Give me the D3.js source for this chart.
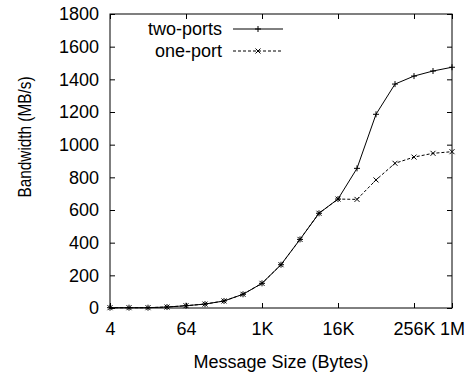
<!DOCTYPE html>
<html>
<head>
<meta charset="utf-8">
<script src="https://cdn.jsdelivr.net/npm/d3@7"></script>
<style>
  body { margin: 0; background: #fff; }
  text { font-family: "Liberation Sans", Arial, sans-serif; fill: #000; }
</style>
</head>
<body>
<div id="chart"></div>
<script>
// message sizes in bytes (powers of two)
const sizes = [4, 8, 16, 32, 64, 128, 256, 512, 1024, 2048, 4096, 8192, 16384,
    32768, 65536, 131072, 262144, 524288, 1048576];
const twoPorts = [2, 2, 2, 6, 14, 24, 43, 84, 151, 265, 420, 580, 667, 855, 1186, 1371, 1420, 1451, 1474];
const onePort = [2, 2, 2, 6, 14, 24, 43, 84, 151, 265, 420, 580, 667, 665, 784, 886, 924, 947, 957];
const xTicks = [4, 64, 1024, 16384, 262144, 1048576];
const xTickLabels = ["4", "64", "1K", "16K", "256K", "1M"];
const yTicks = [0, 200, 400, 600, 800, 1000, 1200, 1400, 1600, 1800];

const width = 469, height = 377;
const plotL = 110, plotR = 452, plotT = 14, plotB = 308;

const svg = d3.select("#chart").append("svg")
    .attr("width", width)
    .attr("height", height);

const x = d3.scaleLog().base(2).domain([4, 1048576]).range([plotL, plotR]);
const y = d3.scaleLinear().domain([0, 1800]).range([plotB, plotT]);

// axes, gnuplot style: inward ticks, mirrored
const xAxis = svg.append("g")
    .attr("transform", "translate(0," + plotB + ")")
    .call(d3.axisBottom(x).tickValues(xTicks)
        .tickFormat((d, i) => xTickLabels[i])
        .tickSize(-5).tickPadding(14));
const xAxisTop = svg.append("g")
    .attr("transform", "translate(0," + plotT + ")")
    .call(d3.axisTop(x).tickValues(xTicks).tickFormat("").tickSize(-5));
const yAxis = svg.append("g")
    .attr("transform", "translate(" + plotL + ",0)")
    .call(d3.axisLeft(y).tickValues(yTicks).tickFormat(d3.format("d"))
        .tickSize(-5).tickPadding(11));
const yAxisRight = svg.append("g")
    .attr("transform", "translate(" + plotR + ",0)")
    .call(d3.axisRight(y).tickValues(yTicks).tickFormat("").tickSize(-5));

[xAxis, xAxisTop, yAxis, yAxisRight].forEach(g => {
    g.select(".domain").remove();
    g.selectAll(".tick line").attr("stroke", "#000");
    g.selectAll(".tick text")
        .style("font-family", "'Liberation Sans', Arial, sans-serif")
        .style("font-size", "18px")
        .attr("fill", "#000");
});
xAxis.selectAll(".tick text").attr("dy", "0.71em");

svg.append("rect")
    .attr("x", plotL).attr("y", plotT)
    .attr("width", plotR - plotL).attr("height", plotB - plotT)
    .attr("fill", "none").attr("stroke", "#000").attr("stroke-width", 1);

// axis titles
svg.append("text")
    .attr("x", (plotL + plotR) / 2)
    .attr("y", 368)
    .attr("text-anchor", "middle")
    .style("font-size", "18px")
    .text("Message Size (Bytes)");

svg.append("text")
    .attr("transform", "translate(31,137) rotate(-90)")
    .attr("text-anchor", "middle")
    .attr("textLength", 121)
    .attr("lengthAdjust", "spacingAndGlyphs")
    .style("font-size", "18px")
    .text("Bandwidth (MB/s)");

const line = d3.line()
    .x(d => x(d[0]))
    .y(d => y(d[1]));

const twoData = sizes.map((s, i) => [s, twoPorts[i]]);
const oneData = sizes.map((s, i) => [s, onePort[i]]);

function plus(g, cx, cy) {
    g.append("path")
        .attr("d", "M" + (cx - 3) + "," + cy + "H" + (cx + 3) + "M" + cx + "," + (cy - 3) + "V" + (cy + 3))
        .attr("stroke", "#000").attr("stroke-width", 1).attr("fill", "none");
}
function cross(g, cx, cy) {
    g.append("path")
        .attr("d", "M" + (cx - 2.5) + "," + (cy - 2.5) + "L" + (cx + 2.5) + "," + (cy + 2.5) +
            "M" + (cx - 2.5) + "," + (cy + 2.5) + "L" + (cx + 2.5) + "," + (cy - 2.5))
        .attr("stroke", "#000").attr("stroke-width", 1).attr("fill", "none");
}

svg.append("path")
    .attr("d", line(oneData))
    .attr("fill", "none").attr("stroke", "#000")
    .attr("stroke-width", 1).attr("stroke-dasharray", "3,2");
svg.append("path")
    .attr("d", line(twoData))
    .attr("fill", "none").attr("stroke", "#000").attr("stroke-width", 1);

const marks = svg.append("g");
oneData.forEach(d => cross(marks, x(d[0]), y(d[1])));
twoData.forEach(d => plus(marks, x(d[0]), y(d[1])));

// legend
const legend = svg.append("g");
const rows = [
    {label: "two-ports", y: 29, dash: null, mark: plus},
    {label: "one-port", y: 51, dash: "3,2", mark: cross}
];
rows.forEach(r => {
    legend.append("text")
        .attr("x", 222).attr("y", r.y)
        .attr("dy", "0.35em")
        .attr("text-anchor", "end")
        .style("font-size", "18px")
        .text(r.label);
    legend.append("line")
        .attr("x1", 233).attr("x2", 283)
        .attr("y1", r.y).attr("y2", r.y)
        .attr("stroke", "#000").attr("stroke-width", 1)
        .attr("stroke-dasharray", r.dash);
    r.mark(legend, 258, r.y);
});
</script>
</body>
</html>
